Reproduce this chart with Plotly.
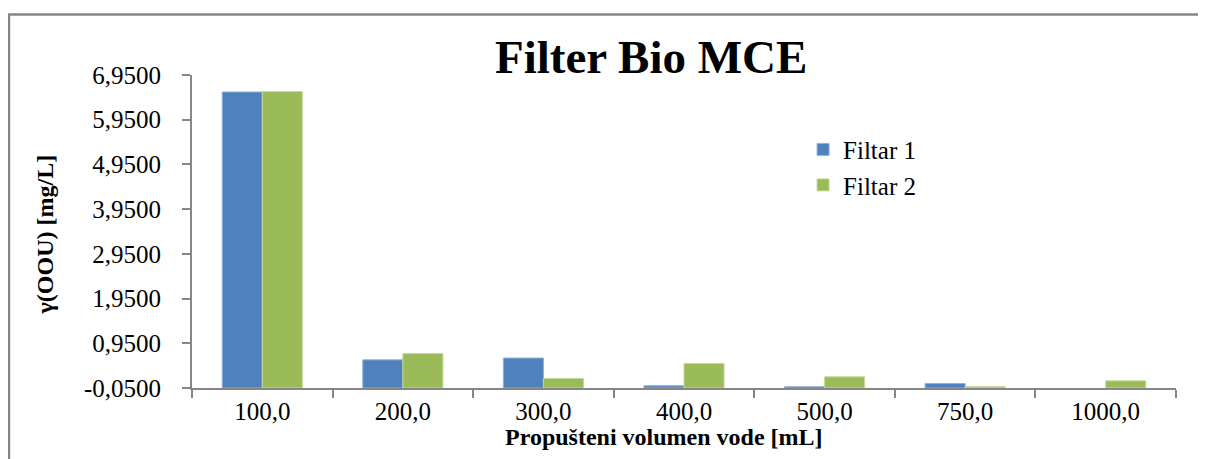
import plotly.graph_objects as go

categories = ["100,0", "200,0", "300,0", "400,0", "500,0", "750,0", "1000,0"]
filtar1 = [6.57, 0.58, 0.62, 0.0, -0.02, 0.05, None]
filtar2 = [6.58, 0.72, 0.165, 0.50, 0.20, -0.02, 0.11]
y_ticks = [-0.05, 0.95, 1.95, 2.95, 3.95, 4.95, 5.95, 6.95]
axis_min = -0.05
axis_max = 6.95

def lengths(vals):
    return [None if v is None else v - axis_min for v in vals]

def fmt(v):
    return f"{v:.4f}".replace(".", ",")

FONT = "Liberation Serif, Times New Roman, serif"
fig = go.Figure()
fig.add_trace(go.Bar(x=categories, y=lengths(filtar1), base=axis_min, name="Filtar 1",
                     marker=dict(color="#4F81BD", line=dict(color="#8FB0DA", width=1))))
fig.add_trace(go.Bar(x=categories, y=lengths(filtar2), base=axis_min, name="Filtar 2",
                     marker=dict(color="#9BBB59", line=dict(color="#C4D99A", width=1))))

fig.update_layout(
    width=1198, height=451,
    margin=dict(l=184, r=30, t=67, b=71),
    paper_bgcolor="white", plot_bgcolor="white",
    font=dict(family=FONT, color="black", size=25),
    barmode="group", bargap=0.43, bargroupgap=0,
    showlegend=True,
    legend=dict(x=0.621, y=0.835, xanchor="left", yanchor="top",
                font=dict(family=FONT, size=25, color="black"), bgcolor="rgba(0,0,0,0)",
                tracegroupgap=0, itemwidth=30),
)
fig.update_xaxes(
    type="category", showline=True, linecolor="#868686", linewidth=2,
    ticks="outside", tickson="boundaries", ticklen=8, tickcolor="#868686", tickwidth=2,
    tickfont=dict(family=FONT, size=25, color="black"), showgrid=False, mirror=False,
)
fig.update_yaxes(
    range=[axis_min, axis_max], tickvals=y_ticks, ticktext=[fmt(v) for v in y_ticks],
    showline=True, linecolor="#868686", linewidth=2,
    ticks="outside", ticklen=8, tickcolor="#868686", tickwidth=2,
    ticklabelstandoff=16, tickfont=dict(family=FONT, size=25, color="black"),
    showgrid=False, zeroline=False,
)
fig.add_annotation(text="<b>Filter Bio MCE</b>", xref="paper", yref="paper",
                   x=0.466, y=1.058, xanchor="center", yanchor="middle",
                   showarrow=False, font=dict(family=FONT, size=47, color="black"))
fig.add_annotation(text="<b>Propušteni volumen vode [mL]</b>", xref="paper", yref="paper",
                   x=0.480, y=-0.157, xanchor="center", yanchor="middle",
                   showarrow=False, font=dict(family=FONT, size=24, color="black"))
fig.add_annotation(text="<b>γ(OOU) [mg/L]</b>", xref="paper", yref="paper",
                   x=-0.149, y=0.492, xanchor="center", yanchor="middle", textangle=-90,
                   showarrow=False, font=dict(family=FONT, size=24, color="black"))
# outer chart border (top and left visible)
fig.add_shape(type="rect", xref="paper", yref="paper",
              x0=-0.186, y0=-3, x1=3, y1=1.193,
              line=dict(color="#868686", width=2.5), layer="below")

fig.write_html("out.html")
